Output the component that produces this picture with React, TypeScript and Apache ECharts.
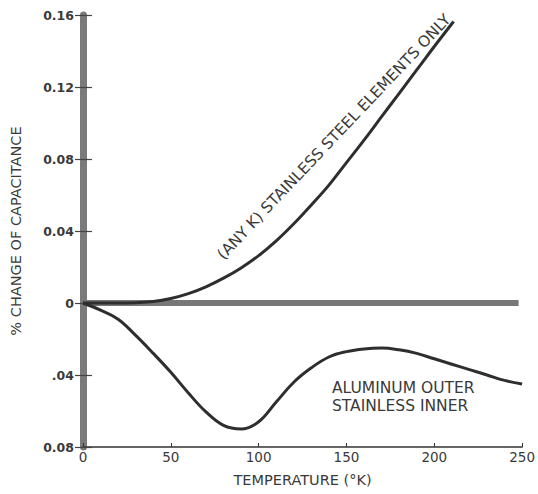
import React, { useEffect, useRef } from "react";
import * as echarts from "echarts";

const xTicks = [0, 50, 100, 150, 200, 250];
const yMin = -0.08;
const yMax = 0.16;
const yStep = 0.04;
const yTickLabels = ["0.08", ".04", "0", "0.04", "0.08", "0.12", "0.16"];

const ssTemp = [0, 20, 30, 40, 50, 60, 70, 80, 90, 100, 110, 120, 130, 140, 150, 160, 170, 180, 190, 200, 211];
const ssValue = [0, 0, 0.0002, 0.0008, 0.0025, 0.0052, 0.009, 0.0138, 0.0195, 0.0263, 0.0345, 0.044, 0.0545, 0.0655, 0.078, 0.0905, 0.1035, 0.1165, 0.1295, 0.1425, 0.1564];

const alTemp = [0, 10, 20, 30, 40, 50, 60, 70, 80, 90, 100, 110, 120, 130, 140, 150, 160, 170, 180, 190, 200, 210, 220, 230, 240, 250];
const alValue = [0, -0.004, -0.009, -0.018, -0.028, -0.0385, -0.05, -0.0605, -0.068, -0.07, -0.066, -0.055, -0.044, -0.036, -0.03, -0.027, -0.0255, -0.025, -0.026, -0.028, -0.031, -0.034, -0.037, -0.040, -0.043, -0.045];

const baseTemp = [0, 248];
const baseValue = [0, 0];

const FONT = "'DejaVu Sans', 'Open Sans', sans-serif";
const TXT = "#3a3a3a";

export default function App() {
  const ref = useRef<HTMLDivElement>(null);
  useEffect(() => {
    if (!ref.current) return;
    const chart = echarts.init(ref.current, null, { renderer: "svg" });
    const pairs = (xs: number[], ys: number[]) => xs.map((x, i) => [x, ys[i]]);
    chart.setOption({
      animation: false,
      backgroundColor: "#ffffff",
      grid: { left: 77, right: 13, top: 15, bottom: 47 },
      xAxis: [
        {
          type: "value",
          min: xTicks[0],
          max: xTicks[xTicks.length - 1],
          interval: 50,
          name: "TEMPERATURE (°K)",
          nameLocation: "middle",
          nameGap: 25,
          nameTextStyle: { fontFamily: FONT, fontSize: 14.5, color: TXT },
          axisLine: { show: true, onZero: false, lineStyle: { color: "#333", width: 1.5 } },
          axisTick: { show: true, inside: true, length: 4, lineStyle: { color: "#333", width: 1 } },
          axisLabel: { fontFamily: FONT, fontSize: 13.5, color: TXT, margin: 3 },
          splitLine: { show: false },
        },
      ],
      yAxis: [
        {
          type: "value",
          min: yMin,
          max: yMax,
          interval: yStep,
          name: "% CHANGE OF CAPACITANCE",
          nameLocation: "middle",
          nameGap: 60,
          nameRotate: 90,
          nameTextStyle: { fontFamily: FONT, fontSize: 14.5, color: TXT },
          axisLine: { show: true, onZero: false, lineStyle: { color: "#7a7a7a", width: 7 } },
          axisTick: { show: true, length: 8, lineStyle: { color: "#444", width: 1.2 } },
          axisLabel: {
            fontFamily: FONT,
            fontSize: 12.5,
            fontWeight: "bold",
            color: TXT,
            margin: 9,
            formatter: (v: number) => yTickLabels[Math.round((v - yMin) / yStep)] ?? "",
          },
          splitLine: { show: false },
        },
        {
          type: "value",
          min: yMin,
          max: yMax,
          interval: yStep,
          position: "left",
          axisLine: { show: false },
          axisTick: { show: true, inside: true, length: 9, lineStyle: { color: "#444", width: 1.2 } },
          axisLabel: { show: false },
          splitLine: { show: false },
        },
      ],
      series: [
        {
          type: "line",
          data: pairs(baseTemp, baseValue),
          symbol: "none",
          lineStyle: { color: "#777", width: 6 },
          z: 2,
        },
        {
          type: "line",
          data: pairs(ssTemp, ssValue),
          smooth: 0.4,
          symbol: "none",
          lineStyle: { color: "#2e2e2e", width: 3 },
          z: 3,
        },
        {
          type: "line",
          data: pairs(alTemp, alValue),
          smooth: 0.4,
          symbol: "none",
          lineStyle: { color: "#2e2e2e", width: 3 },
          z: 3,
        },
      ],
      graphic: [
        {
          type: "text",
          x: 334,
          y: 137,
          rotation: (46.5 * Math.PI) / 180,
          style: {
            text: "(ANY K) STAINLESS STEEL ELEMENTS ONLY",
            fontFamily: FONT,
            fontSize: 15.5,
            fill: TXT,
            textAlign: "center",
            textVerticalAlign: "middle",
          },
        },
        {
          type: "text",
          x: 332,
          y: 387.5,
          style: {
            text: "ALUMINUM OUTER",
            fontFamily: FONT,
            fontSize: 15.5,
            fill: TXT,
            textAlign: "left",
            textVerticalAlign: "middle",
          },
        },
        {
          type: "text",
          x: 332,
          y: 405.5,
          style: {
            text: "STAINLESS INNER",
            fontFamily: FONT,
            fontSize: 15.5,
            fill: TXT,
            textAlign: "left",
            textVerticalAlign: "middle",
          },
        },
      ],
    });
    return () => chart.dispose();
  }, []);
  return <div ref={ref} style={{ width: 538, height: 494, position: "absolute", left: 0, top: 0 }} />;
}
